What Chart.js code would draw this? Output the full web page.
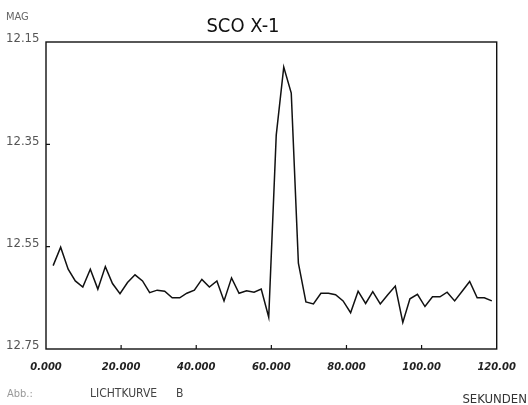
<!DOCTYPE html>
<html>
<head>
<meta charset="utf-8">
<script src="https://cdn.jsdelivr.net/npm/chart.js@4/dist/chart.umd.min.js"></script>
<style>
  html, body { margin: 0; padding: 0; background: #ffffff; }
  #wrap { width: 528px; height: 405px; position: relative; }
</style>
</head>
<body>
<div id="wrap"><canvas id="c" width="528" height="405"></canvas></div>
<script>
// ---- data ----
const titleText = "SCO X-1";
const yAxisTitle = "MAG";
const xAxisTitle = "SEKUNDEN";
const captionLabel = "Abb.:";
const captionText = "LICHTKURVE";
const captionLetter = "B";

const xTicks = [0, 20, 40, 60, 80, 100, 120];
const xTickLabels = ["0.000", "20.000", "40.000", "60.000", "80.000", "100.00", "120.00"];
const yTicks = [12.15, 12.35, 12.55, 12.75];
const yTickLabels = ["12.15", "12.35", "12.55", "12.75"];

const times = [
  1.9, 3.9, 5.9, 7.8, 9.8, 11.8, 13.8, 15.8, 17.7, 19.7,
  21.7, 23.7, 25.7, 27.6, 29.6, 31.6, 33.6, 35.6, 37.5, 39.5,
  41.5, 43.5, 45.5, 47.4, 49.4, 51.4, 53.4, 55.4, 57.3, 59.3,
  61.3, 63.3, 65.3, 67.2, 69.2, 71.2, 73.2, 75.2, 77.1, 79.1,
  81.1, 83.1, 85.1, 87.0, 89.0, 91.0, 93.0, 95.0, 96.9, 98.9,
  100.9, 102.9, 104.9, 106.8, 108.8, 110.8, 112.8, 114.8, 116.7, 118.7
];
const magnitudes = [
  12.587, 12.551, 12.594, 12.617, 12.629, 12.594, 12.633, 12.589, 12.622, 12.642,
  12.620, 12.605, 12.617, 12.640, 12.635, 12.637, 12.650, 12.650, 12.641, 12.635,
  12.614, 12.629, 12.617, 12.656, 12.611, 12.641, 12.636, 12.639, 12.633, 12.688,
  12.332, 12.199, 12.250, 12.582, 12.658, 12.662, 12.641, 12.641, 12.644, 12.656,
  12.679, 12.637, 12.661, 12.638, 12.662, 12.644, 12.627, 12.698, 12.652, 12.643,
  12.667, 12.648, 12.648, 12.639, 12.656, 12.637, 12.618, 12.650, 12.650, 12.656
];

const points = times.map((t, i) => ({ x: t, y: magnitudes[i] }));

// ---- decorations: frame, inward ticks, title and captions ----
const decorPlugin = {
  id: 'decor',
  afterDraw(chart) {
    const ctx = chart.ctx;
    const a = chart.chartArea;
    const xs = chart.scales.x, ys = chart.scales.y;
    ctx.save();
    // frame
    ctx.strokeStyle = '#111';
    ctx.lineWidth = 1.4;
    ctx.strokeRect(a.left, a.top, a.right - a.left, a.bottom - a.top);
    // inward ticks
    ctx.lineWidth = 1.2;
    ctx.beginPath();
    xTicks.slice(1, -1).forEach(v => {
      const px = xs.getPixelForValue(v);
      ctx.moveTo(px, a.bottom);
      ctx.lineTo(px, a.bottom - 4);
    });
    yTicks.slice(1, -1).forEach(v => {
      const py = ys.getPixelForValue(v);
      ctx.moveTo(a.left, py);
      ctx.lineTo(a.left + 4, py);
    });
    ctx.stroke();

    ctx.textBaseline = 'alphabetic';
    const cond = '"DejaVu Sans Condensed", "DejaVu Sans", sans-serif';
    // title
    ctx.fillStyle = '#111';
    ctx.font = '20px ' + cond;
    ctx.textAlign = 'center';
    ctx.fillText(titleText, 243, 32);
    // MAG
    ctx.fillStyle = '#666';
    ctx.font = '11px ' + cond;
    ctx.textAlign = 'left';
    ctx.fillText(yAxisTitle, 6, 20);
    // caption
    ctx.fillStyle = '#999';
    ctx.font = '11px ' + cond;
    ctx.fillText(captionLabel, 7, 397);
    ctx.fillStyle = '#444';
    ctx.font = '12px ' + cond;
    ctx.fillText(captionText, 90, 397);
    ctx.fillText(captionLetter, 176, 397);
    // x title
    ctx.fillStyle = '#333';
    ctx.font = '13px ' + cond;
    ctx.textAlign = 'right';
    ctx.fillText(xAxisTitle, 527, 403);
    ctx.restore();
  }
};

new Chart(document.getElementById('c'), {
  type: 'line',
  data: {
    datasets: [{
      data: points,
      borderColor: '#111',
      borderWidth: 1.5,
      pointRadius: 0,
      tension: 0,
      fill: false
    }]
  },
  options: {
    responsive: false,
    animation: false,
    devicePixelRatio: 1,
    layout: { padding: { left: 6, right: 31, top: 42, bottom: 0 } },
    plugins: {
      legend: { display: false },
      title: { display: false },
      tooltip: { enabled: false }
    },
    scales: {
      x: {
        type: 'linear',
        min: 0,
        max: 120,
        grid: { display: false, drawTicks: false },
        border: { display: false },
        afterBuildTicks: s => { s.ticks = xTicks.map(v => ({ value: v })); },
        afterFit: s => { s.height = 56; },
        ticks: {
          padding: 12,
          maxRotation: 0,
          autoSkip: false,
          color: '#222',
          font: { family: '"DejaVu Sans", sans-serif', size: 10, style: 'italic', weight: 'bold' },
          callback: v => xTickLabels[xTicks.indexOf(v)]
        }
      },
      y: {
        type: 'linear',
        reverse: true,
        min: 12.15,
        max: 12.75,
        grid: { display: false, drawTicks: false },
        border: { display: false },
        afterBuildTicks: s => { s.ticks = yTicks.map(v => ({ value: v })); },
        afterFit: s => { s.width = 40; },
        ticks: {
          crossAlign: 'far',
          labelOffset: -3,
          autoSkip: false,
          color: '#555',
          font: { family: '"DejaVu Sans Condensed", "DejaVu Sans", sans-serif', size: 13 },
          callback: (v) => {
            const i = yTicks.findIndex(t => Math.abs(t - v) < 1e-6);
            return i >= 0 ? yTickLabels[i] : '';
          }
        }
      }
    }
  },
  plugins: [decorPlugin]
});
</script>
</body>
</html>
